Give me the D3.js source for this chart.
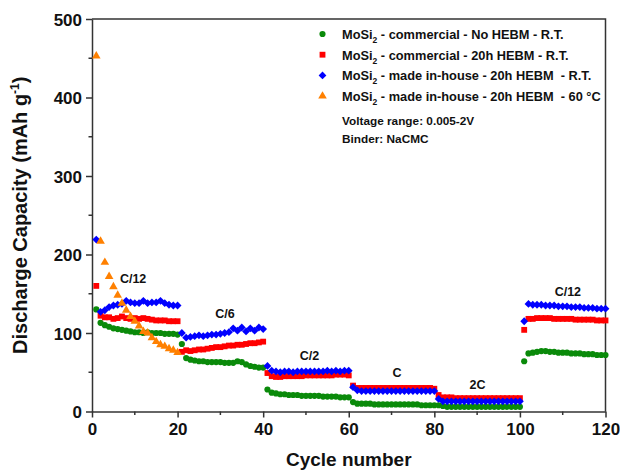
<!DOCTYPE html>
<html>
<head>
<meta charset="utf-8">
<script src="https://cdn.jsdelivr.net/npm/d3@7"></script>
<style>
  html, body { margin: 0; padding: 0; background: #fff; }
  svg { display: block; font-family: "Liberation Sans", Arial, sans-serif; }
  .axis path, .axis line { stroke: #333; stroke-width: 1.5; }
  .axis text { font-size: 17px; font-weight: bold; fill: #111; }
  .legend text { white-space: pre; }
</style>
</head>
<body>
<svg id="chart" width="620" height="472"></svg>
<script>
// Discharge capacity (mAh/g) per cycle, cycles 1..120 (rate steps of 20 cycles)
const noHebm = [
  130, 113, 110, 108, 106, 105, 104, 103, 102, 101, 101, 100, 101, 100, 100, 100, 99, 99, 99, 98,
  86, 68, 66, 65, 64, 64, 63, 63, 63, 63, 62, 62, 62, 64, 63, 60, 58, 57, 56, 56,
  28, 24, 23, 22, 22, 21, 21, 21, 20, 20, 20, 20, 20, 19, 19, 19, 19, 18, 18, 18,
  12, 10, 10, 10, 10, 9, 9, 9, 9, 9, 9, 9, 9, 9, 9, 9, 8, 8, 8, 8,
  8, 7, 6, 6, 6, 6, 6, 6, 6, 6, 6, 6, 6, 6, 6, 6, 6, 6, 6, 6,
  64, 74, 75, 76, 77, 77, 76, 76, 75, 75, 75, 74, 74, 74, 73, 73, 73, 72, 72, 72
];
const commercial20h = [
  160, 122, 120, 120, 118, 119, 121, 119, 118, 119, 118, 119, 118, 117, 116, 116, 116, 115, 115, 115,
  76, 78, 77, 78, 79, 79, 80, 81, 82, 82, 83, 84, 84, 85, 85, 86, 87, 87, 88, 89,
  49, 45, 44, 44, 45, 45, 45, 45, 45, 46, 46, 46, 46, 46, 46, 46, 47, 47, 47, 46,
  33, 30, 30, 30, 30, 30, 30, 30, 30, 30, 30, 30, 30, 30, 30, 30, 30, 30, 30, 29,
  21, 18, 18, 18, 17, 17, 17, 17, 17, 17, 17, 17, 17, 17, 17, 17, 17, 17, 17, 17,
  104, 118, 118, 119, 119, 119, 119, 118, 118, 118, 118, 118, 117, 117, 117, 117, 117, 116, 116, 116
];
const inHouse20h = [
  219, 127, 129, 133, 135, 136, 137, 141, 139, 138, 138, 141, 138, 139, 139, 141, 138, 136, 135, 135,
  100, 94, 95, 96, 97, 96, 97, 98, 98, 99, 100, 101, 106, 103, 107, 102, 106, 103, 107, 105,
  58, 52, 51, 50, 51, 51, 50, 51, 51, 51, 51, 51, 51, 51, 52, 51, 52, 51, 52, 52,
  31, 27, 26, 26, 26, 26, 26, 26, 26, 26, 26, 26, 26, 26, 26, 26, 26, 26, 26, 26,
  16, 13, 13, 13, 13, 13, 13, 13, 13, 13, 13, 13, 13, 13, 13, 13, 13, 13, 13, 13,
  115, 137, 136, 136, 136, 135, 135, 135, 134, 134, 134, 133, 133, 133, 132, 132, 132, 131, 131, 131
];
const inHouse60C = [
  453, 217, 190, 172, 159, 148, 138, 129, 121, 115, 109, 102, 100, 94, 89, 85, 83, 80, 78, 75
];

const xTicks = [0, 20, 40, 60, 80, 100, 120];
const yTicks = [0, 100, 200, 300, 400, 500];

const rateLabels = ["C/12", "C/6", "C/2", "C", "2C", "C/12"];
const rateLabelCycle = [9.6, 31.1, 50.8, 71.3, 90.1, 111.2];
const rateLabelCapacity = [164, 119, 65, 44, 28.5, 146.5];

const seriesNames = [
  ["MoSi", "2", " - commercial - No HEBM - R.T."],
  ["MoSi", "2", " - commercial - 20h HEBM - R.T."],
  ["MoSi", "2", " - made in-house - 20h HEBM  - R.T."],
  ["MoSi", "2", " - made in-house - 20h HEBM  - 60 \u00B0C"]
];
const noteLines = ["Voltage range: 0.005-2V", "Binder: NaCMC"];

const seriesColors = ["#0a8a0a", "#ff0000", "#0000ff", "#ff8000"];
const seriesShapes = ["circle", "square", "diamond", "triangle"];

// ---- drawing ----
const svg = d3.select("#chart");
const x = d3.scaleLinear().domain([0, 120]).range([92, 605.5]);
const y = d3.scaleLinear().domain([0, 500]).range([411.5, 19]);

function markerPath(shape) {
  if (shape === "circle") return d3.symbol(d3.symbolCircle, 30)();
  if (shape === "square") return d3.symbol(d3.symbolSquare, 34)();
  if (shape === "triangle") return d3.symbol(d3.symbolTriangle, 32)();
  const r = 3.9; // rotated square
  return `M0,${-r}L${r},0L0,${r}L${-r},0Z`;
}

// minor ticks
const minorX = d3.range(10, 120, 20);
const minorY = d3.range(50, 500, 100);
svg.append("g").selectAll("line").data(minorX).join("line")
  .attr("x1", d => x(d)).attr("x2", d => x(d))
  .attr("y1", y(0)).attr("y2", y(0) + 3.5)
  .attr("stroke", "#333").attr("stroke-width", 1.5);
svg.append("g").selectAll("line").data(minorY).join("line")
  .attr("y1", d => y(d)).attr("y2", d => y(d))
  .attr("x1", x(0)).attr("x2", x(0) - 3.5)
  .attr("stroke", "#333").attr("stroke-width", 1.5);

const xAxis = svg.append("g").attr("class", "axis")
  .attr("transform", `translate(0,${y(0)})`)
  .call(d3.axisBottom(x).tickValues(xTicks).tickSize(6).tickSizeOuter(0).tickPadding(5));
const yAxis = svg.append("g").attr("class", "axis")
  .attr("transform", `translate(${x(0)},0)`)
  .call(d3.axisLeft(y).tickValues(yTicks).tickSize(6).tickSizeOuter(0).tickPadding(4));
yAxis.selectAll(".tick text").attr("dy", "0.36em");

// top and right frame
svg.append("path")
  .attr("d", `M${x(0)},${y(500)}H${x(120)}V${y(0)}`)
  .attr("fill", "none").attr("stroke", "#333").attr("stroke-width", 1.5);

// axis titles
svg.append("text")
  .attr("x", (x(0) + x(120)) / 2).attr("y", 466)
  .attr("text-anchor", "middle")
  .style("font-size", "19px").style("font-weight", "bold").attr("fill", "#111")
  .text("Cycle number");

const yTitle = svg.append("text")
  .attr("transform", `translate(27,${(y(0) + y(500)) / 2}) rotate(-90)`)
  .attr("text-anchor", "middle")
  .style("font-size", "20px").style("font-weight", "bold").attr("fill", "#111");
yTitle.append("tspan").text("Discharge Capacity (mAh g");
yTitle.append("tspan").attr("dy", -8).style("font-size", "12px").text("-1");
yTitle.append("tspan").attr("dy", 8).text(")");

// data series
const allSeries = [noHebm, commercial20h, inHouse20h, inHouse60C];
allSeries.forEach((vals, i) => {
  svg.append("g")
    .selectAll("path")
    .data(vals.map((v, k) => ({ c: k + 1, v })))
    .join("path")
    .attr("transform", d => `translate(${x(d.c)},${y(d.v)})`)
    .attr("d", markerPath(seriesShapes[i]))
    .attr("fill", seriesColors[i]);
});

// rate labels
svg.append("g").selectAll("text")
  .data(rateLabels.map((t, i) => ({ t, c: rateLabelCycle[i], v: rateLabelCapacity[i] })))
  .join("text")
  .attr("x", d => x(d.c)).attr("y", d => y(d.v))
  .attr("text-anchor", "middle")
  .style("font-size", "12.5px").style("font-weight", "bold").attr("fill", "#111")
  .text(d => d.t);

// legend
const legend = svg.append("g").attr("class", "legend");
seriesNames.forEach((parts, i) => {
  const rowY = 34 + i * 20.7;
  legend.append("path")
    .attr("transform", `translate(322.5,${rowY})`)
    .attr("d", markerPath(seriesShapes[i]))
    .attr("fill", seriesColors[i]);
  const t = legend.append("text")
    .attr("x", 342).attr("y", rowY + 5)
    .style("font-size", "12.8px").style("font-weight", "bold").attr("fill", "#111");
  t.append("tspan").text(parts[0]);
  t.append("tspan").attr("dy", 4).style("font-size", "8.5px").text(parts[1]);
  t.append("tspan").attr("dy", -4).text(parts[2]);
});
noteLines.forEach((line, i) => {
  legend.append("text")
    .attr("x", 342).attr("y", 124.5 + i * 18)
    .style("font-size", "11.8px").style("font-weight", "bold").attr("fill", "#111")
    .text(line);
});
</script>
</body>
</html>
